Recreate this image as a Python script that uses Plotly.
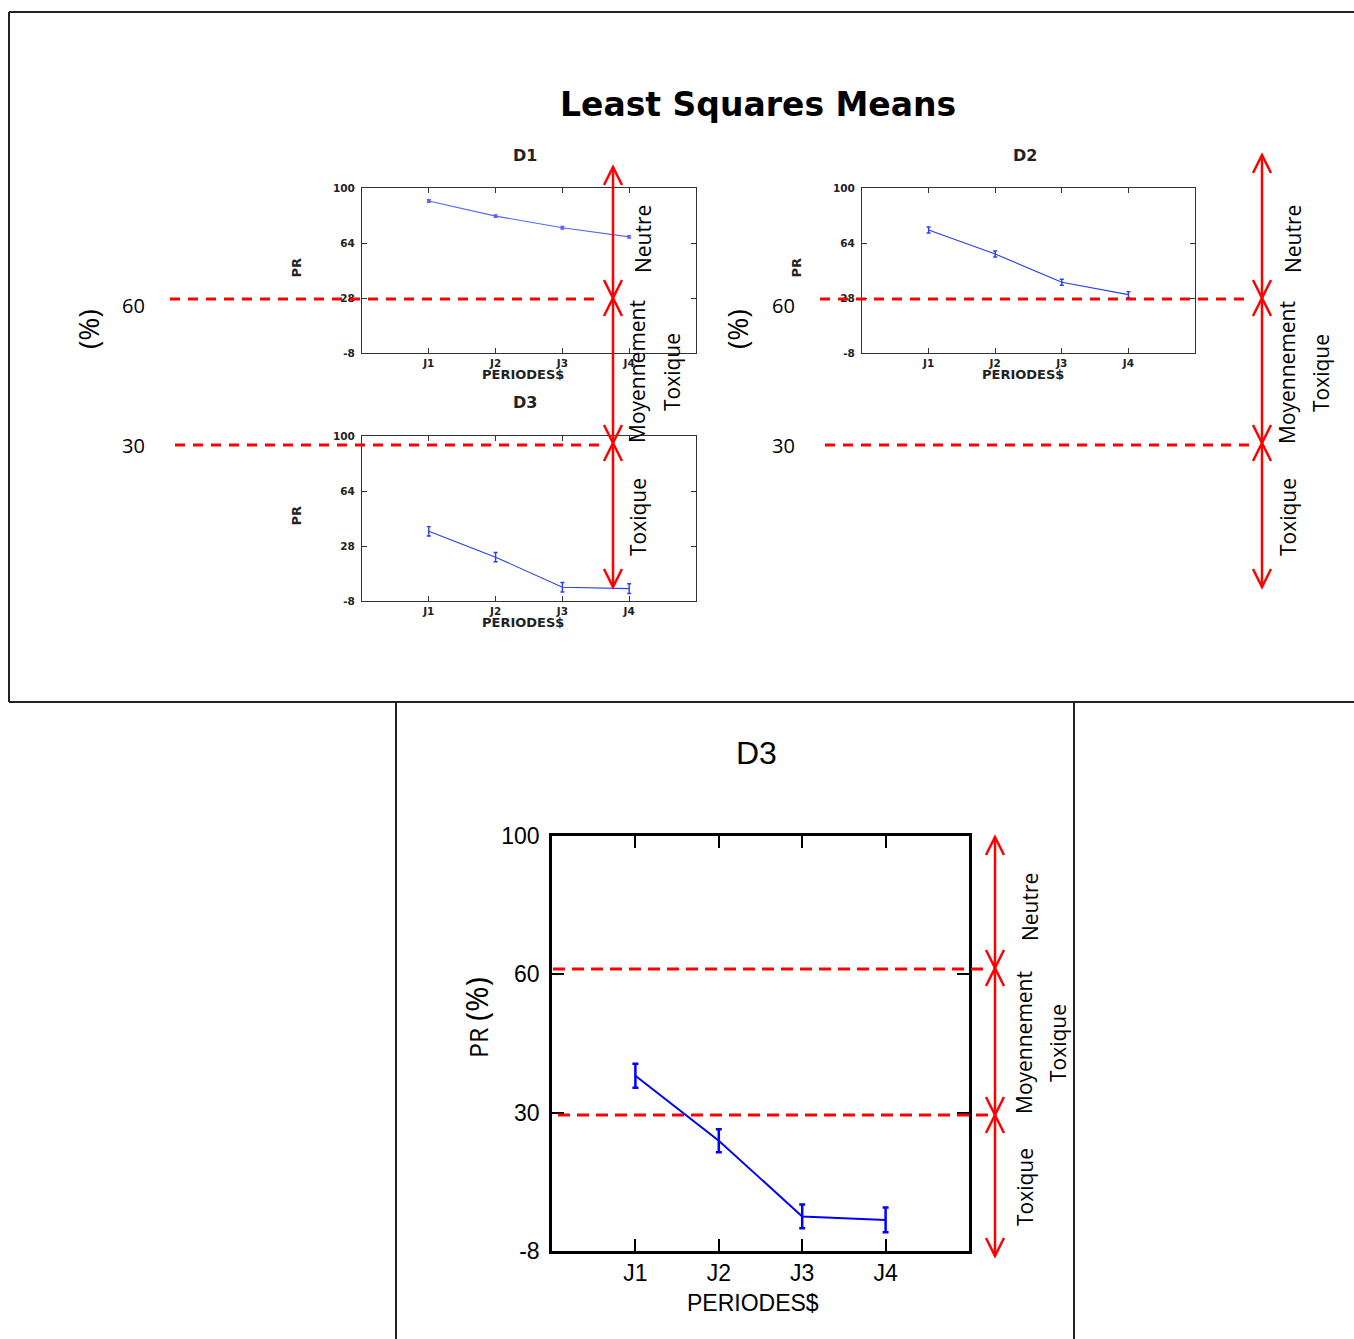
import plotly.graph_objects as go

W, H = 1354, 1339

# Least-squares means of PR (%) per period, for each dose
periods = ["J1", "J2", "J3", "J4"]
d1_pr = [91.5, 81.6, 74.0, 68.0]
d1_err = [0.8, 0.8, 0.8, 0.8]
d2_pr = [72.5, 56.8, 38.3, 30.2]
d2_err = [2.0, 2.0, 2.0, 2.0]
d3_pr = [37.6, 20.7, 1.0, 0.1]
d3_err = [3.1, 3.0, 3.1, 3.2]

y_ticks = [-8, 28, 64, 100]
small_tick_text = ["-8", "28", "64", "100"]
big_tick_text = ["-8", "30", "60", "100"]
zone_names = ["Neutre", "Moyennement", "Toxique"]


def px(x):
    return x / W


def py(y):
    return 1 - y / H


SMALL_FONT = dict(family="DejaVu Sans", size=10.5, color="#222", weight=700)
BIG_FONT = dict(family="Liberation Sans", size=23, color="black")


def axis_pair(x0, x1, y0, y1, big=False):
    common = dict(
        showline=True, mirror="ticks", ticks="inside",
        linecolor="black" if big else "#333",
        linewidth=2.5 if big else 1.2,
        tickcolor="black" if big else "#333",
        ticklen=12 if big else 5,
        tickwidth=2 if big else 1,
        showgrid=False, zeroline=False, fixedrange=True,
        automargin=False,
        tickfont=BIG_FONT if big else SMALL_FONT,
    )
    xa = dict(common, domain=[px(x0), px(x1)], range=[-1, 4],
              type="category", categoryorder="array", categoryarray=periods)
    ya = dict(common, domain=[py(y1), py(y0)], range=[-8, 100],
              tickvals=y_ticks,
              ticktext=big_tick_text if big else small_tick_text,
              ticklabelstandoff=5 if big else 4)
    return xa, ya


fig = go.Figure()

panels = [
    # name, values, errors, axis suffix, box (x0, x1, y0, y1), big
    ("D1", d1_pr, d1_err, "", (362, 696, 188, 353), False),
    ("D2", d2_pr, d2_err, "2", (862, 1195, 188, 353), False),
    ("D3", d3_pr, d3_err, "3", (362, 696, 436, 601), False),
    ("D3", d3_pr, d3_err, "4", (552, 969, 836, 1251), True),
]

layout_axes = {}
annotations = []


def ann(x, y, text, font, angle=0, xanchor="center", yanchor="middle"):
    annotations.append(dict(
        x=px(x), y=py(y), xref="paper", yref="paper", text=text,
        showarrow=False, textangle=angle, font=font,
        xanchor=xanchor, yanchor=yanchor))


for name, vals, errs, sfx, (x0, x1, y0, y1), big in panels:
    xa, ya = axis_pair(x0, x1, y0, y1, big)
    layout_axes["xaxis" + sfx] = dict(xa, anchor="y" + sfx)
    layout_axes["yaxis" + sfx] = dict(ya, anchor="x" + sfx)
    colour = "#0000ff" if big else ("#5566ff" if name == "D1" else "#2a3cf0")
    fig.add_trace(go.Scatter(
        x=periods, y=vals, name=name,
        xaxis="x" + sfx, yaxis="y" + sfx,
        mode="lines+markers" if name == "D1" and not big else "lines",
        line=dict(color=colour, width=2.0 if big else 1.1),
        marker=dict(size=3, symbol="square", color=colour),
        error_y=dict(type="data", array=errs, visible=True, color=colour,
                     thickness=2.5 if big else 1.4, width=3 if big else 2),
        showlegend=False,
    ))
    cx = (x0 + x1) / 2
    if big:
        ann(cx - 4, 753, name, dict(family="Liberation Sans", size=32, color="black"))
        ann(cx - 8, 1303, "PERIODES$", BIG_FONT)
        ann(476, 1018, "PR <span style='font-size:31px'>(%)</span>",
            dict(family="Open Sans", size=25, color="black"), angle=-90)
    else:
        ann(cx - 4, y0 - 33, name, dict(family="DejaVu Sans", size=16, color="#222", weight=700))
        ann(cx - 6, y1 + 21, "PERIODES$", dict(family="DejaVu Sans", size=13, color="#222", weight=700))
        ann(x0 - 66, (y0 + y1) / 2 - 3, "PR",
            dict(family="DejaVu Sans", size=13, color="#222", weight=700), angle=-90)

# Overall heading
ann(758, 105, "Least Squares Means",
    dict(family="DejaVu Sans", size=33, color="black", weight=700))

shapes = []
RED = "#ff0000"


def seg(xa, ya, xb, yb, color="#222", width=2, dash="solid"):
    shapes.append(dict(type="line", xref="paper", yref="paper",
                       x0=px(xa), y0=py(ya), x1=px(xb), y1=py(yb),
                       line=dict(color=color, width=width, dash=dash)))


def head(x, y, up):
    d = 18 if up else -18
    path = "M {a},{b} L {c},{e} L {f},{b}".format(
        a=px(x - 9), b=py(y + d), c=px(x), e=py(y), f=px(x + 9))
    shapes.append(dict(type="path", xref="paper", yref="paper", path=path,
                       line=dict(color=RED, width=2.5)))


def zone_arrow(x, stops):
    # double-headed arrows between consecutive zone limits
    for ya, yb in zip(stops[:-1], stops[1:]):
        seg(x, ya, x, yb, color=RED, width=2.5)
        head(x, ya, True)
        head(x, yb, False)


def zone_labels(x, y_neutre, y_moy, y_tox, x_second):
    f = dict(family="Open Sans", size=21, color="black")
    ann(x, y_neutre, zone_names[0], f, angle=-90)
    ann(x - 6, y_moy, zone_names[1], f, angle=-90)
    ann(x_second, y_moy, zone_names[2], f, angle=-90)
    ann(x - 5, y_tox, zone_names[2], f, angle=-90)


TOP_DASH = "10px,8px"
LOW_DASH = "12px,7px"

# Upper panel: thresholds drawn across the small plots
for xs, xe in [(170, 602), (820, 1252)]:
    seg(xs, 299, xe, 299, color=RED, width=2.8, dash=TOP_DASH)
    seg(xs + 5, 445, xe, 445, color=RED, width=2.8, dash=TOP_DASH)

lab = dict(family="Open Sans", size=20, color="black")
for xp, xn in [(88, 133), (737, 783)]:
    ann(xp, 329, "(%)", dict(family="Open Sans", size=28, color="black"), angle=-90)
    ann(xn, 305, "60", lab)
    ann(xn, 445, "30", lab)

zone_arrow(613, [167, 298, 443, 587])
zone_labels(643, 239, 372, 517, 672)
zone_arrow(1262, [155, 298, 443, 587])
zone_labels(1293, 239, 373, 517, 1321)

# Lower panel thresholds and zones
seg(553, 969, 988, 969, color=RED, width=2.8, dash=LOW_DASH)
seg(558, 1115, 988, 1115, color=RED, width=2.8, dash=LOW_DASH)
zone_arrow(995, [837, 968, 1115, 1256])
zone_labels(1030, 907, 1043, 1187, 1058)

# Frames
seg(9, 12, 1354, 12)
seg(9, 12, 9, 702)
seg(9, 702, 1354, 702)
seg(396, 702, 396, 1339)
seg(1074, 702, 1074, 1339)

fig.update_layout(
    width=W, height=H,
    margin=dict(l=0, r=0, t=0, b=0, pad=0, autoexpand=False),
    paper_bgcolor="white", plot_bgcolor="white",
    shapes=shapes, annotations=annotations,
    **layout_axes,
)

fig.write_html("out.html")
